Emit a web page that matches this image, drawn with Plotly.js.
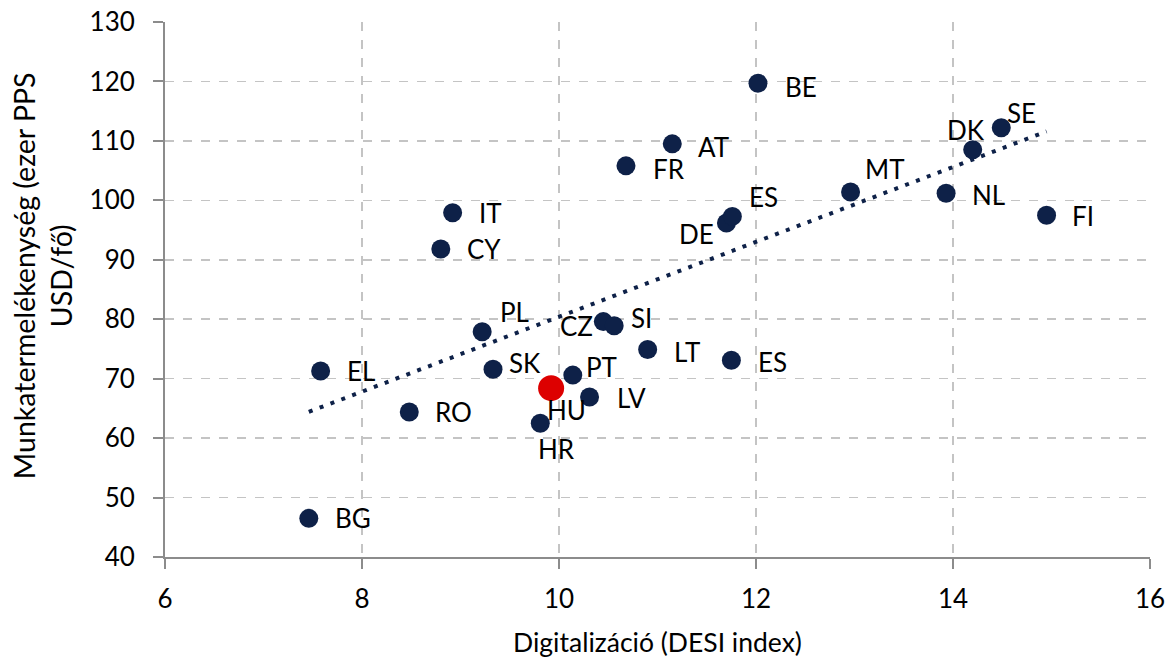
<!DOCTYPE html>
<html>
<head>
<meta charset="utf-8">
<script src="https://cdn.plot.ly/plotly-3.0.1.min.js"></script>
<style>
html,body{margin:0;padding:0;background:#fff;}
#chart{width:1174px;height:659px;}
</style>
</head>
<body>
<div id="chart"></div>
<script>
// ---- data ----
const countries = ["BG","EL","RO","CY","IT","PL","SK","HU","HR","PT","LV","CZ","SI","LT","FR","AT","DE","ES","ES","BE","MT","NL","DK","SE","FI"];
const desi      = [7.46, 7.58, 8.48, 8.80, 8.92, 9.22, 9.33, 9.92, 9.81, 10.14, 10.31, 10.45, 10.56, 10.90, 10.68, 11.15, 11.70, 11.76, 11.75, 12.02, 12.96, 13.93, 14.20, 14.49, 14.95];
const productivity = [46.5, 71.3, 64.4, 91.8, 97.9, 77.9, 71.6, 68.4, 62.5, 70.6, 66.9, 79.6, 78.9, 74.9, 105.8, 109.5, 96.2, 97.3, 73.1, 119.7, 101.4, 101.2, 108.5, 112.2, 97.5];
const highlight = "HU";

const xTitle = "Digitalizáció (DESI index)";
const yTitle = "Munkatermelékenység (ezer PPS<br>USD/fő)";

// ---- label placement (pixel offsets from each point; style only) ----
// [xanchor, xshift, yshift]
const labelPlacement = [
  ["left", 24, 0], ["left", 24, 0], ["left", 24, 0], ["left", 24, 0], ["left", 24, 0],
  ["left", 16, 20], ["left", 14, 6], ["center", 15, -22], ["center", 16, -26], ["left", 11, 8],
  ["left", 25, -1], ["right", -8, -4], ["left", 15, 8], ["left", 24, -2], ["left", 25, -3],
  ["left", 24, -3], ["right", -10, -11], ["left", 15, 19], ["left", 25, -2], ["left", 25, -4],
  ["left", 12, 23], ["left", 24, -2], ["center", -7, 20], ["left", 4, 15], ["left", 23, -1]
];

const navy = "#0e2148";
const red = "#dd0000";
const font = "Lato, 'Open Sans', sans-serif";

// split highlighted / others
const ox = [], oy = [], hx = [], hy = [];
countries.forEach((c, i) => {
  if (c === highlight) { hx.push(desi[i]); hy.push(productivity[i]); }
  else { ox.push(desi[i]); oy.push(productivity[i]); }
});

// linear trendline (least squares over all points)
const n = desi.length;
const mx = desi.reduce((a, b) => a + b, 0) / n;
const my = productivity.reduce((a, b) => a + b, 0) / n;
let sxy = 0, sxx = 0;
for (let i = 0; i < n; i++) { sxy += (desi[i] - mx) * (productivity[i] - my); sxx += (desi[i] - mx) ** 2; }
const slope = sxy / sxx, intercept = my - slope * mx;
const tx = [Math.min(...desi), Math.max(...desi)];
const ty = tx.map(v => intercept + slope * v);

const traces = [
  { x: ox, y: oy, type: "scatter", mode: "markers", marker: { color: navy, size: 19 }, hoverinfo: "skip" },
  { x: hx, y: hy, type: "scatter", mode: "markers", marker: { color: red, size: 26 }, hoverinfo: "skip" },
  { x: tx, y: ty, type: "scatter", mode: "lines", line: { color: navy, width: 4, dash: "4px,7.6px" }, hoverinfo: "skip" }
];

const annotations = countries.map((c, i) => ({
  x: desi[i], y: productivity[i], xref: "x", yref: "y",
  text: c, showarrow: false,
  xanchor: labelPlacement[i][0], yanchor: "middle",
  xshift: labelPlacement[i][1], yshift: labelPlacement[i][2],
  font: { family: font, size: 26, color: "#000" }
}));

// y-axis title (two rotated lines, centred as in the reference)
annotations.push({
  text: yTitle, xref: "paper", yref: "paper", x: 0, y: 0.525,
  xanchor: "center", yanchor: "middle", xshift: -123, textangle: -90,
  showarrow: false, font: { family: font, size: 28.5, color: "#000" }
});

const axisCommon = {
  showgrid: true, gridcolor: "#c4c4c4", gridwidth: 1.5, griddash: "dash",
  showline: true, linecolor: "#8c8c8c", linewidth: 2,
  ticks: "outside", ticklen: 10, tickwidth: 2, tickcolor: "#8c8c8c",
  zeroline: false,
  tickfont: { family: font, size: 26, color: "#000" }
};

const layout = {
  width: 1174, height: 659,
  margin: { l: 165, r: 24, t: 22, b: 102 },
  paper_bgcolor: "#fff", plot_bgcolor: "#fff",
  showlegend: false,
  xaxis: Object.assign({}, axisCommon, {
    range: [6, 16], dtick: 2, tick0: 6, ticklabelstandoff: 8,
    title: { text: xTitle, font: { family: font, size: 26.5, color: "#000" }, standoff: 20 }
  }),
  yaxis: Object.assign({}, axisCommon, {
    range: [40, 130], dtick: 10, tick0: 40, ticklabelstandoff: 13
  }),
  annotations: annotations
};

Plotly.newPlot("chart", traces, layout, { staticPlot: true, displayModeBar: false });
</script>
</body>
</html>
